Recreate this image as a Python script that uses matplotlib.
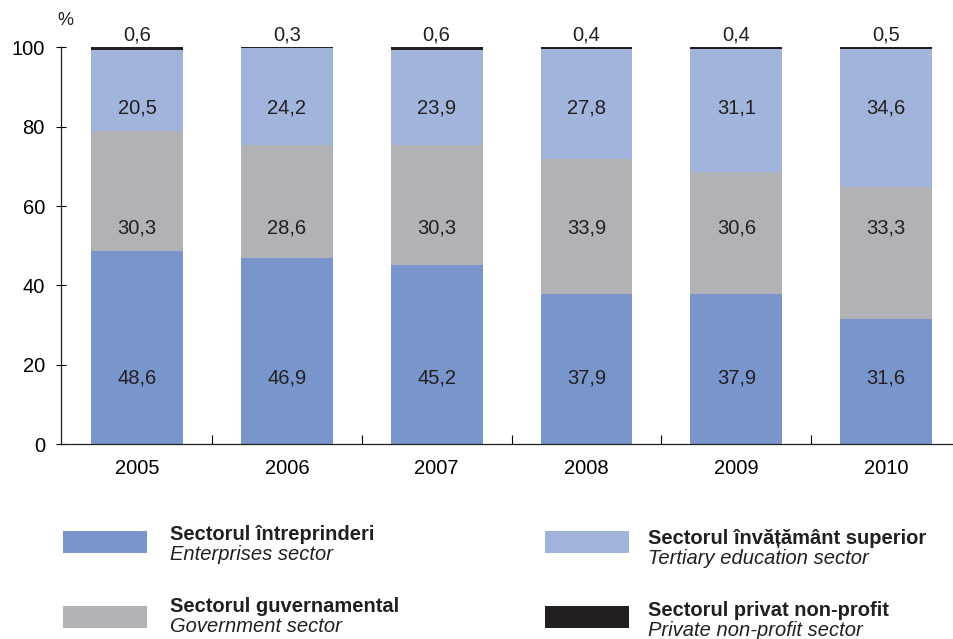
import numpy as np
import matplotlib.pyplot as plt
from matplotlib.patches import Rectangle

plt.rcParams['font.family'] = ['Liberation Sans', 'DejaVu Sans']

years = ["2005", "2006", "2007", "2008", "2009", "2010"]
enterprises = [48.6, 46.9, 45.2, 37.9, 37.9, 31.6]
government = [30.3, 28.6, 30.3, 33.9, 30.6, 33.3]
tertiary = [20.5, 24.2, 23.9, 27.8, 31.1, 34.6]
private = [0.6, 0.3, 0.6, 0.4, 0.4, 0.5]

series = [enterprises, government, tertiary, private]
colors = ["#7896cc", "#b1b2b6", "#a0b4dc", "#231f20"]
# labels in the original sit at fixed heights inside each band
label_y = [16.6, 54.4, 84.6]
names_ro = ["Sectorul întreprinderi", "Sectorul guvernamental",
            "Sectorul învățământ superior", "Sectorul privat non-profit"]
names_en = ["Enterprises sector", "Government sector",
            "Tertiary education sector", "Private non-profit sector"]


def fmt(v):
    return f"{v:.1f}".replace(".", ",")


fig = plt.figure(figsize=(9.54, 6.39), dpi=100)
ax = fig.add_axes([0.064, 0.305, 0.936, 0.621])

x = np.arange(len(years))
bottom = np.zeros(len(years))
for k, (vals, col) in enumerate(zip(series, colors)):
    vals = np.array(vals)
    ax.bar(x, vals, 0.613, bottom=bottom, color=col, linewidth=0, clip_on=False)
    for xi, b, v in zip(x, bottom, vals):
        if k < 3:
            ax.text(xi, label_y[k], fmt(v), ha="center", va="center",
                    fontsize=14.5, color="#231f20")
        else:
            ax.text(xi, b + v + 0.7, fmt(v), ha="center", va="bottom",
                    fontsize=14.5, color="#231f20")
    bottom += vals

ax.set_xlim(-0.507, 5.453)
ax.set_ylim(0, 100)
ax.set_yticks([0, 20, 40, 60, 80, 100])
ax.set_xticks(x)
ax.set_xticklabels(years)
ax.set_xticks(x[:-1] + 0.5, minor=True)
ax.tick_params(axis="x", which="major", length=0, pad=11, labelsize=14.5)
ax.tick_params(axis="x", which="minor", direction="in", length=6.5, width=0.8)
ax.tick_params(axis="y", direction="inout", length=7.2, width=0.8, pad=8,
               labelsize=14.5)
for s in ["top", "right"]:
    ax.spines[s].set_visible(False)
for s in ["left", "bottom"]:
    ax.spines[s].set_linewidth(0.9)
    ax.spines[s].set_color("#231f20")
ax.text(-0.48, 104.5, "%", ha="center", va="bottom", fontsize=13, color="#231f20")

# legend
cols = [(63, 170, 534), (545, 648, 539)]
rows = [(531, 553), (606, 628)]
for i in range(4):
    px0, tx, ty = cols[i // 2]
    y0, y1 = rows[i % 2]
    ty = ty + (y0 - 531) - 3 * (i % 2)
    fig.patches.append(Rectangle((px0 / 954, 1 - y1 / 639), 84 / 954,
                                 (y1 - y0) / 639, transform=fig.transFigure,
                                 color=colors[i], linewidth=0))
    fig.text(tx / 954, 1 - ty / 639, names_ro[i], fontsize=14.5,
             fontweight="bold", va="center", ha="left", color="#231f20")
    fig.text(tx / 954, 1 - (ty + 20) / 639, names_en[i], fontsize=14.5,
             fontstyle="italic", va="center", ha="left", color="#231f20")

fig.savefig("out.png", dpi=100)
